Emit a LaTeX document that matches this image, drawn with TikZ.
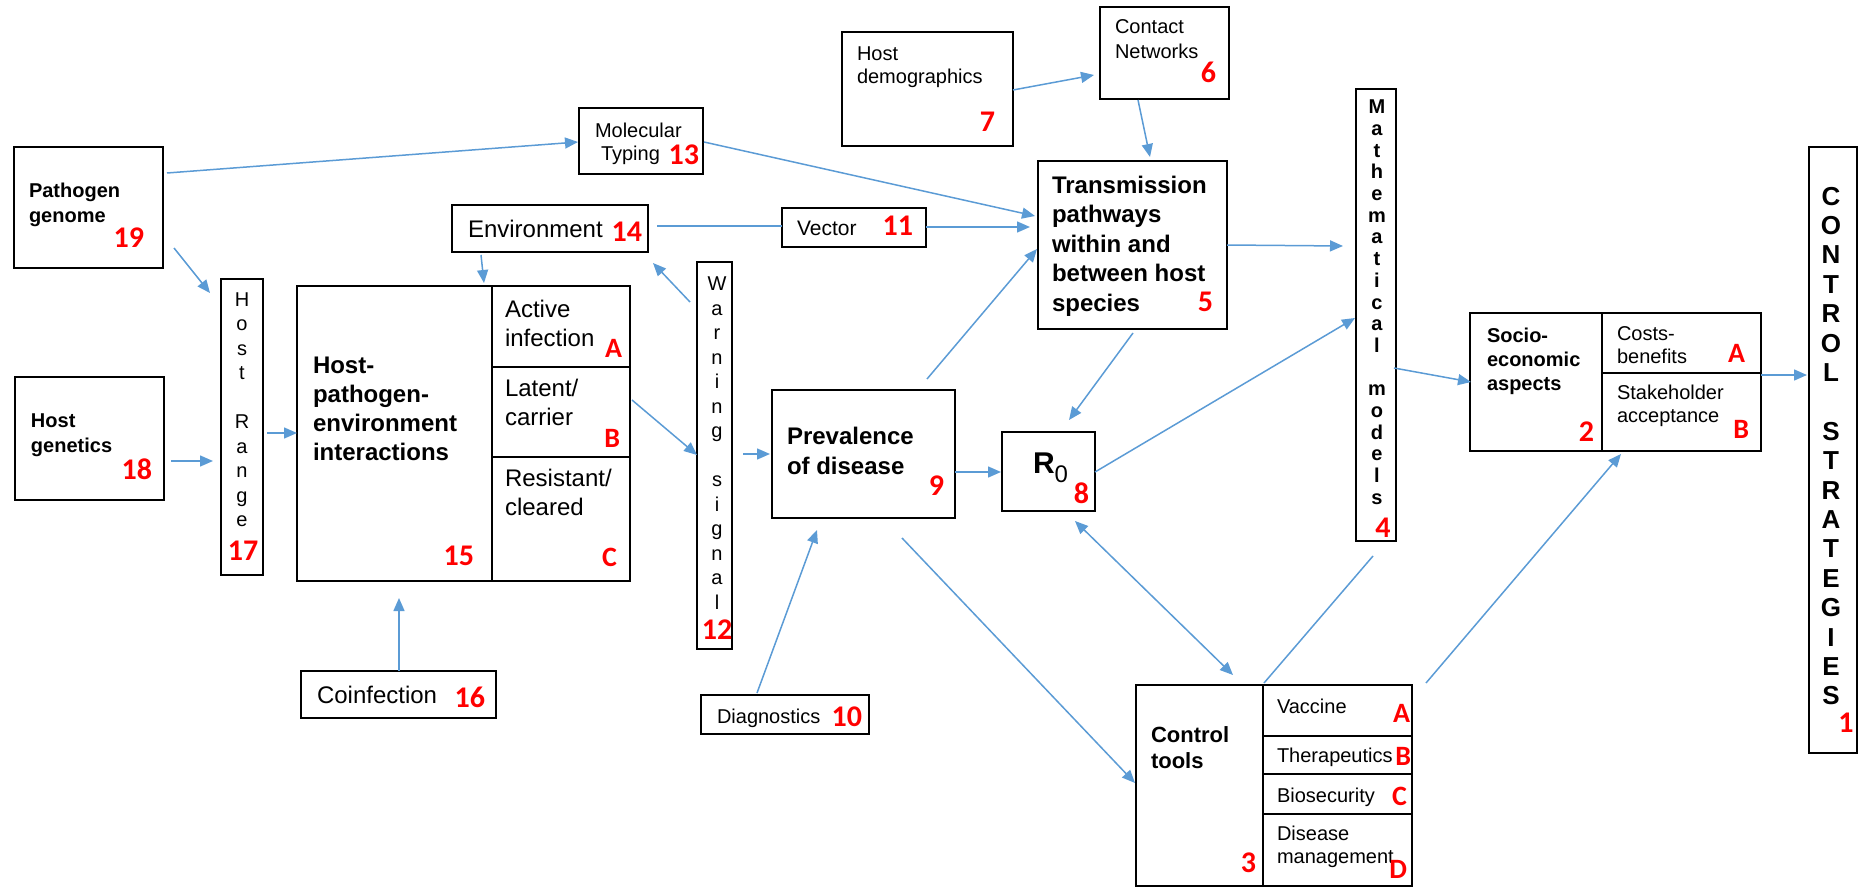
\documentclass[tikz,border=0pt]{standalone}
\usepackage{fontspec}
\setmainfont{Liberation Sans}
\newfontfamily\numfont{Carlito}
\usetikzlibrary{fit,arrows.meta,calc}
\definecolor{arrowblue}{HTML}{5B9BD5}
\begin{document}
\begin{tikzpicture}[x=0.5pt,y=-0.5pt,
 bx/.style={draw=black, inner sep=0pt, outer sep=0pt, line width=0.65pt},
 bxm/.style={bx, line width=1pt},
 bxt/.style={bx, line width=1.4pt},
 tx/.style={inner sep=0pt, outer sep=0pt, align=left},
 fr/.style 2 args={tx, font=\fontsize{#1}{#2}\selectfont},
 fbold/.style 2 args={tx, font=\bfseries\fontsize{#1}{#2}\selectfont},
 num/.style={inner sep=0pt, outer sep=0pt, text=red, font=\numfont\bfseries\fontsize{15}{15}\selectfont},
 lt/.style={inner sep=0pt, outer sep=0pt, text=red, font=\numfont\bfseries\fontsize{14}{14}\selectfont},
 arr/.style={draw=arrowblue, line width=0.75pt, -{Triangle[length=6.5pt,width=5.5pt]}},
 arr2/.style={draw=arrowblue, line width=0.75pt, {Triangle[length=6.5pt,width=5.5pt]}-{Triangle[length=6.5pt,width=5.5pt]}},
 ln/.style={draw=arrowblue, line width=0.75pt},
]
\useasboundingbox (0,0) rectangle (1859,888);

% ---------- boxes ----------
\node[bx, fit={(14,147) (163,268)}] (pg) {};
\node[bx, fit={(15,377) (164,500)}] (hg) {};
\node[bxt, fit={(221,279) (263,575)}] (hr) {};
\node[bx, fit={(297,286) (630,581)}] (hpe) {};
\node[bx, fit={(492,286) (630,367)}] (hpeA) {};
\node[bx, fit={(492,367) (630,457)}] (hpeB) {};
\node[bx, fit={(492,457) (630,581)}] (hpeC) {};
\node[bxt, fit={(452,205) (648,252)}] (env) {};
\node[bxt, fit={(301,671) (496,718)}] (co) {};
\node[bxt, fit={(697,262) (732,649)}] (ws) {};
\node[bxm, fit={(579,108) (703,174)}] (mt) {};
\node[bxm, fit={(782,208) (926,247)}] (vec) {};
\node[bxt, fit={(842,32) (1013,146)}] (hd) {};
\node[bxt, fit={(1100,7) (1229,99)}] (cn) {};
\node[bx, fit={(1038,161) (1227,329)}] (tp) {};
\node[bx, fit={(772,390) (955,518)}] (pv) {};
\node[bx, fit={(1002,432) (1095,511)}] (r0) {};
\node[bx, fit={(1356,89) (1396,541)}] (mm) {};
\node[bxm, fit={(1809,147) (1857,753)}] (cs) {};
\node[bxt, fit={(1470,313) (1761,451)}] (se) {};
\node[bxt, fit={(1602,313) (1761,373)}] (seA) {};
\node[bxt, fit={(1602,373) (1761,451)}] (seB) {};
\node[bx, fit={(1136,685) (1263,886)}] (ct) {};
\node[bx, fit={(1263,685) (1412,736)}] (ctA) {};
\node[bx, fit={(1263,736) (1412,774)}] (ctB) {};
\node[bx, fit={(1263,774) (1412,814)}] (ctC) {};
\node[bx, fit={(1263,814) (1412,886)}] (ctD) {};
\node[bxt, fit={(701,695) (869,734)}] (dg) {};

% ---------- texts ----------
\node[fbold={10}{12.5}, anchor=north west] (pgT) at (29,182.6) {Pathogen\\genome};
\node[num, anchor=base east] (pgN) at (144,248) {19};
\node[fbold={10}{12.5}, anchor=north west] (hgT) at (31,413.6) {Host\\genetics};
\node[num, anchor=base east] (hgN) at (152,479) {18};
\node[fr={10}{12.25}, align=center, anchor=north] (hrT) at (242,292.7) {H\\o\\s\\t\\\mbox{}\\R\\a\\n\\g\\e};
\node[num, anchor=base] (hrN) at (243,560) {17};

\node[fbold={12}{14.5}, anchor=north west] (hpeT) at (313,357) {Host-\\pathogen-\\environment\\interactions};
\node[num, anchor=base east] (hpeN) at (474,565) {15};
\node[fr={12}{14.5}, anchor=north west] (hpeAT) at (505,300) {Active\\infection};
\node[lt, anchor=base east] (hpeAL) at (622,357) {A};
\node[fr={12}{14.5}, anchor=north west] (hpeBT) at (505,379) {Latent/\\carrier};
\node[lt, anchor=base east] (hpeBL) at (620,447) {B};
\node[fr={12}{14.5}, anchor=north west] (hpeCT) at (505,469) {Resistant/\\cleared};
\node[lt, anchor=base east] (hpeCL) at (617,566) {C};

\node[fr={12}{14}, anchor=base west] (envT) at (468,237) {Environment};
\node[num, anchor=base east] (envN) at (642,242) {14};
\node[fr={12}{14}, anchor=base west] (coT) at (317,703) {Coinfection};
\node[num, anchor=base east] (coN) at (485,707) {16};

\node[fr={10}{12.25}, align=center, anchor=north] (wsT) at (717,277) {W\\a\\r\\n\\i\\n\\g\\\mbox{}\\s\\i\\g\\n\\a\\l};
\node[num, anchor=base] (wsN) at (717,639) {12};

\node[fr={10}{11.5}, anchor=north west] (mtT) at (595,122.6) {Molecular\\\hspace*{3pt}Typing};
\node[num, anchor=base east] (mtN) at (699,164) {13};
\node[fr={10.5}{12}, anchor=base west] (vecT) at (797,235) {Vector};
\node[num, anchor=base east] (vecN) at (913,235) {11};

\node[fr={10}{11.5}, anchor=north west] (hdT) at (857,47) {Host\\demographics};
\node[num, anchor=base east] (hdN) at (995,132) {7};
\node[fr={10}{12.5}, anchor=north west] (cnT) at (1115,20) {Contact\\Networks};
\node[num, anchor=base east] (cnN) at (1216,83) {6};

\node[fbold={12}{14.75}, anchor=north west] (tpT) at (1052,176) {Transmission\\pathways\\within and\\between host\\species};
\node[num, anchor=base east] (tpN) at (1213,311) {5};

\node[fbold={12}{15}, anchor=north west] (pvT) at (787,427) {Prevalence\\of disease};
\node[num, anchor=base east] (pvN) at (944,495) {9};
\node[tx, anchor=base west] (r0T) at (1033,473) {{\bfseries\fontsize{15}{15}\selectfont R}{\fontsize{12}{12}\selectfont\raisebox{-4.5pt}{0}}};
\node[num, anchor=base east] (r0N) at (1089,503) {8};

\node[fbold={10}{10.85}, align=center, anchor=north] (mmT) at (1377,100) {M\\a\\t\\h\\e\\m\\a\\t\\i\\c\\a\\l\\\mbox{}\\m\\o\\d\\e\\l\\s};
\node[num, anchor=base] (mmN) at (1383,537) {4};

\node[fbold={13}{14.7}, align=center, anchor=north] (csT) at (1831,187) {C\\O\\N\\T\\R\\O\\L\\\mbox{}\\S\\T\\R\\A\\T\\E\\G\\I\\E\\S};
\node[num, anchor=base] (csN) at (1846,732) {1};

\node[fbold={10}{12}, anchor=north west] (seT) at (1487,328) {Socio-\\economic\\aspects};
\node[num, anchor=base east] (seN) at (1594,441) {2};
\node[fr={10}{11.5}, anchor=north west] (seAT) at (1617,327) {Costs-\\benefits};
\node[lt, anchor=base east] (seAL) at (1745,362) {A};
\node[fr={10}{11.5}, anchor=north west] (seBT) at (1617,385) {Stakeholder\\acceptance};
\node[lt, anchor=base east] (seBL) at (1749,438) {B};

\node[fbold={11}{13}, anchor=north west] (ctT) at (1151,727) {Control\\tools};
\node[num, anchor=base east] (ctN) at (1256,872) {3};
\node[fr={10}{12}, anchor=base west] (ctAT) at (1277,713) {Vaccine};
\node[lt, anchor=base east] (ctAL) at (1410,722) {A};
\node[fr={10}{12}, anchor=base west] (ctBT) at (1277,762) {Therapeutics};
\node[lt, anchor=base east] (ctBL) at (1411,765) {B};
\node[fr={10}{12}, anchor=base west] (ctCT) at (1277,802) {Biosecurity};
\node[lt, anchor=base east] (ctCL) at (1407,805) {C};
\node[fr={10}{11.5}, anchor=north west] (ctDT) at (1277,826) {Disease\\management};
\node[lt, anchor=base east] (ctDL) at (1407,878) {D};

\node[fr={10}{12}, anchor=base west] (dgT) at (717,723) {Diagnostics};
\node[num, anchor=base east] (dgN) at (862,726) {10};

% ---------- connectors ----------
\draw[arr] ([shift={(153,26)}]pg.north west) -- ([shift={(-1,34)}]mt.north west);
\draw[arr] ([shift={(160,101)}]pg.north west) -- ([shift={(-11,14)}]hr.north west);
\draw[arr] ([shift={(156,84)}]hg.north west) -- ([shift={(-8,182)}]hr.north west);
\draw[arr] ([shift={(46,154)}]hr.north west) -- ([shift={(0,147)}]hpe.north west);
\draw[arr] ([shift={(29,50)}]env.north west) -- ([shift={(187,-3)}]hpe.north west);
\draw[arr] ([shift={(98,0)}]co.north west) -- ([shift={(102,312)}]hpe.north west);
\draw[arr] ([shift={(335,114)}]hpe.north west) -- ([shift={(0,193)}]ws.north west);
\draw[arr] ([shift={(-7,40)}]ws.north west) -- ([shift={(201,58)}]env.north west);
\draw[ln] ([shift={(205,21)}]env.north west) -- ([shift={(0,18)}]vec.north west);
\draw[arr] ([shift={(144,19)}]vec.north west) -- ([shift={(-8,66)}]tp.north west);
\draw[arr] ([shift={(125,34)}]mt.north west) -- ([shift={(-3,55)}]tp.north west);
\draw[arr] ([shift={(46,192)}]ws.north west) -- ([shift={(-2,64)}]pv.north west);
\draw[arr] ([shift={(56,-2)}]dg.north west) -- ([shift={(45,140)}]pv.north west);
\draw[arr] ([shift={(155,-11)}]pv.north west) -- ([shift={(-1,88)}]tp.north west);
\draw[arr] ([shift={(183,82)}]pv.north west) -- ([shift={(-1,40)}]r0.north west);
\draw[arr] ([shift={(130,148)}]pv.north west) -- ([shift={(-1,98)}]ct.north west);
\draw[arr] ([shift={(171,58)}]hd.north west) -- ([shift={(-6,68)}]cn.north west);
\draw[arr] ([shift={(38,93)}]cn.north west) -- ([shift={(112,-4)}]tp.north west);
\draw[arr] ([shift={(95,172)}]tp.north west) -- ([shift={(67,-12)}]r0.north west);
\draw[arr] ([shift={(189,84)}]tp.north west) -- ([shift={(-13,157)}]mm.north west);
\draw[arr] ([shift={(93,40)}]r0.north west) -- ([shift={(-1,229)}]mm.north west);
\draw[arr2] ([shift={(73,89)}]r0.north west) -- ([shift={(97,-10)}]ct.north west);
\draw[ln] ([shift={(17,467)}]mm.north west) -- ([shift={(128,-2)}]ct.north west);
\draw[arr] ([shift={(38,279)}]mm.north west) -- ([shift={(1,69)}]se.north west);
\draw[arr] ([shift={(163,-2)}]ctA.north west) -- ([shift={(151,141)}]se.north west);
\draw[arr] ([shift={(291,62)}]se.north west) -- ([shift={(-2,228)}]cs.north west);
\end{tikzpicture}
\end{document}
